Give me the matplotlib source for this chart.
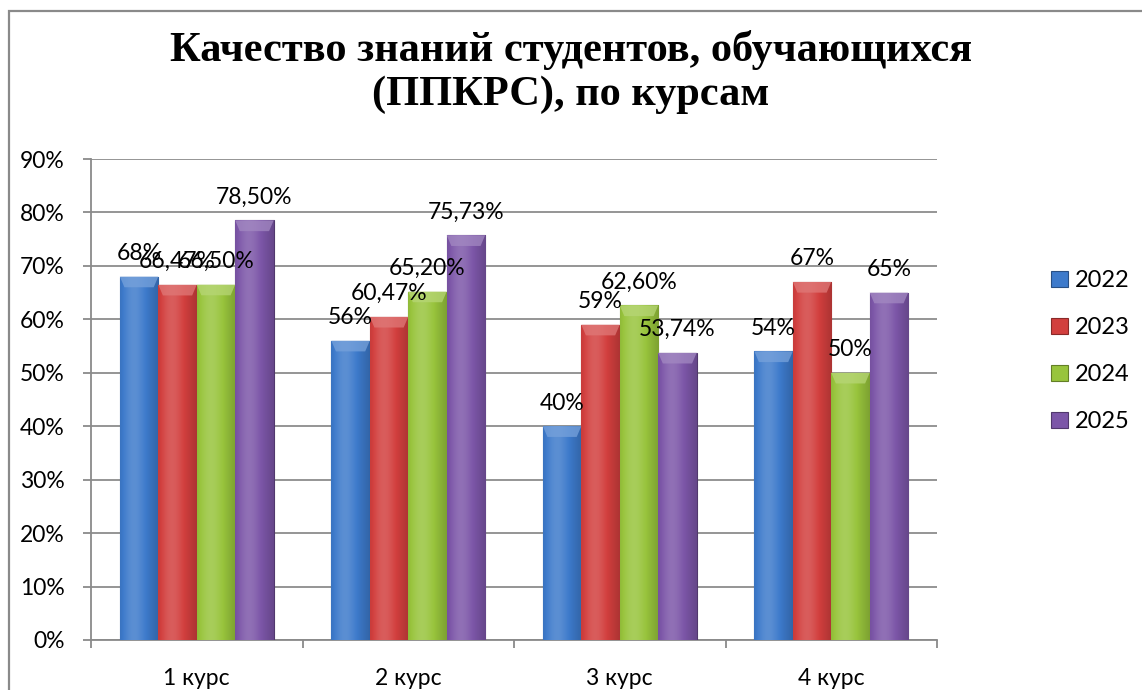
import numpy as np
import matplotlib
matplotlib.use("Agg")
import matplotlib.pyplot as plt
from matplotlib.patches import Rectangle, Polygon
from matplotlib.colors import to_rgb

courses = ['1 курс', '2 курс', '3 курс', '4 курс']
years = ['2022', '2023', '2024', '2025']
v2022 = [68, 56, 40, 54]
v2023 = [66.47, 60.47, 59, 67]
v2024 = [66.50, 65.20, 62.60, 50]
v2025 = [78.50, 75.73, 53.74, 65]
yticks = [0, 10, 20, 30, 40, 50, 60, 70, 80, 90]

series = [v2022, v2023, v2024, v2025]
colors = ['#3d7acb', '#d23f3e', '#98c43c', '#7c56a8']

plt.rcParams['font.family'] = ['Lato', 'DejaVu Sans']

fig = plt.figure(figsize=(11.42, 6.90), dpi=100)
ax = fig.add_axes([91 / 1142, 1 - 640 / 690, 846 / 1142, 481 / 690])

# outer chart frame
fig.patches.append(Rectangle((9 / 1142, -0.1), 1.2, 1 - 11 / 690 + 0.1,
                             transform=fig.transFigure, fill=False,
                             edgecolor='#8a8a8a', linewidth=1.6))


def fmt(v):
    if float(v).is_integer():
        return f'{int(v)}%'
    return f'{v:.2f}%'.replace('.', ',')


def shade(color, k):
    r, g, b = to_rgb(color)
    if k >= 0:
        return (r + (1 - r) * k, g + (1 - g) * k, b + (1 - b) * k)
    return (r * (1 + k), g * (1 + k), b * (1 + k))


x = np.arange(len(courses))
w = 1 / 5.5
grad = np.linspace(0, 1, 64)
prof = 0.18 * np.exp(-((grad - 0.35) / 0.3) ** 2) - 0.18 * grad ** 3 - 0.1 * (1 - grad) ** 4

for i, (vals, col) in enumerate(zip(series, colors)):
    pos = x - 1.5 * w + i * w
    bars = ax.bar(pos, vals, width=w, color=col, edgecolor=shade(col, -0.35),
                  linewidth=0.8, label=years[i], zorder=3)
    img = np.array([[shade(col, k) for k in prof]])
    for b, v in zip(bars, vals):
        x0, bw, h = b.get_x(), b.get_width(), b.get_height()
        im = ax.imshow(img, extent=[x0, x0 + bw, 0, h], aspect='auto',
                       zorder=3.5, interpolation='bicubic')
        im.set_clip_path(b)
        bev = 2.0
        ins = bw * 0.12
        ax.add_patch(Polygon([(x0, h), (x0 + bw, h), (x0 + bw - ins, h - bev),
                              (x0 + ins, h - bev)], closed=True,
                             facecolor=shade(col, 0.3), edgecolor='none',
                             alpha=0.75, zorder=4))
        ax.annotate(fmt(v), (x0 + bw / 2, h), xytext=(0, 9),
                    textcoords='offset points', ha='center', va='bottom',
                    fontsize=16.5, color='black', zorder=6)

ax.set_xlim(-0.5, len(courses) - 0.5)
ax.set_ylim(0, 90)
ax.set_yticks(yticks)
ax.set_yticklabels([f'{t}%' for t in yticks])
ax.set_xticks(x)
ax.set_xticklabels(courses)
ax.set_xticks(np.arange(len(courses) + 1) - 0.5, minor=True)
ax.tick_params(axis='x', which='major', length=0, pad=20, labelsize=16.5)
ax.tick_params(axis='x', which='minor', length=6, color='#8a8a8a', width=1.3)
ax.tick_params(axis='y', length=6, color='#8a8a8a', width=1.3, pad=13,
               labelsize=16.5)
ax.yaxis.grid(True, color='#8c8c8c', linewidth=1.3, zorder=0)
ax.set_axisbelow(True)
for s in ['top', 'right']:
    ax.spines[s].set_visible(False)
for s in ['left', 'bottom']:
    ax.spines[s].set_color('#8a8a8a')
    ax.spines[s].set_linewidth(1.3)

fig.text(0.5, 1 - 72 / 690,
         'Качество знаний студентов, обучающихся\n(ППКРС), по курсам',
         ha='center', va='center', fontsize=30.5, fontweight='bold',
         family=['Liberation Serif', 'DejaVu Serif'], linespacing=1.22)

leg = ax.legend(loc='center left', bbox_to_anchor=(1042 / 846 - 91 / 846, 0.6),
                frameon=False, fontsize=17, handlelength=0.7,
                handleheight=0.7, handletextpad=0.3, labelspacing=1.1,
                borderaxespad=0)

fig.savefig('out.png', dpi=100)
